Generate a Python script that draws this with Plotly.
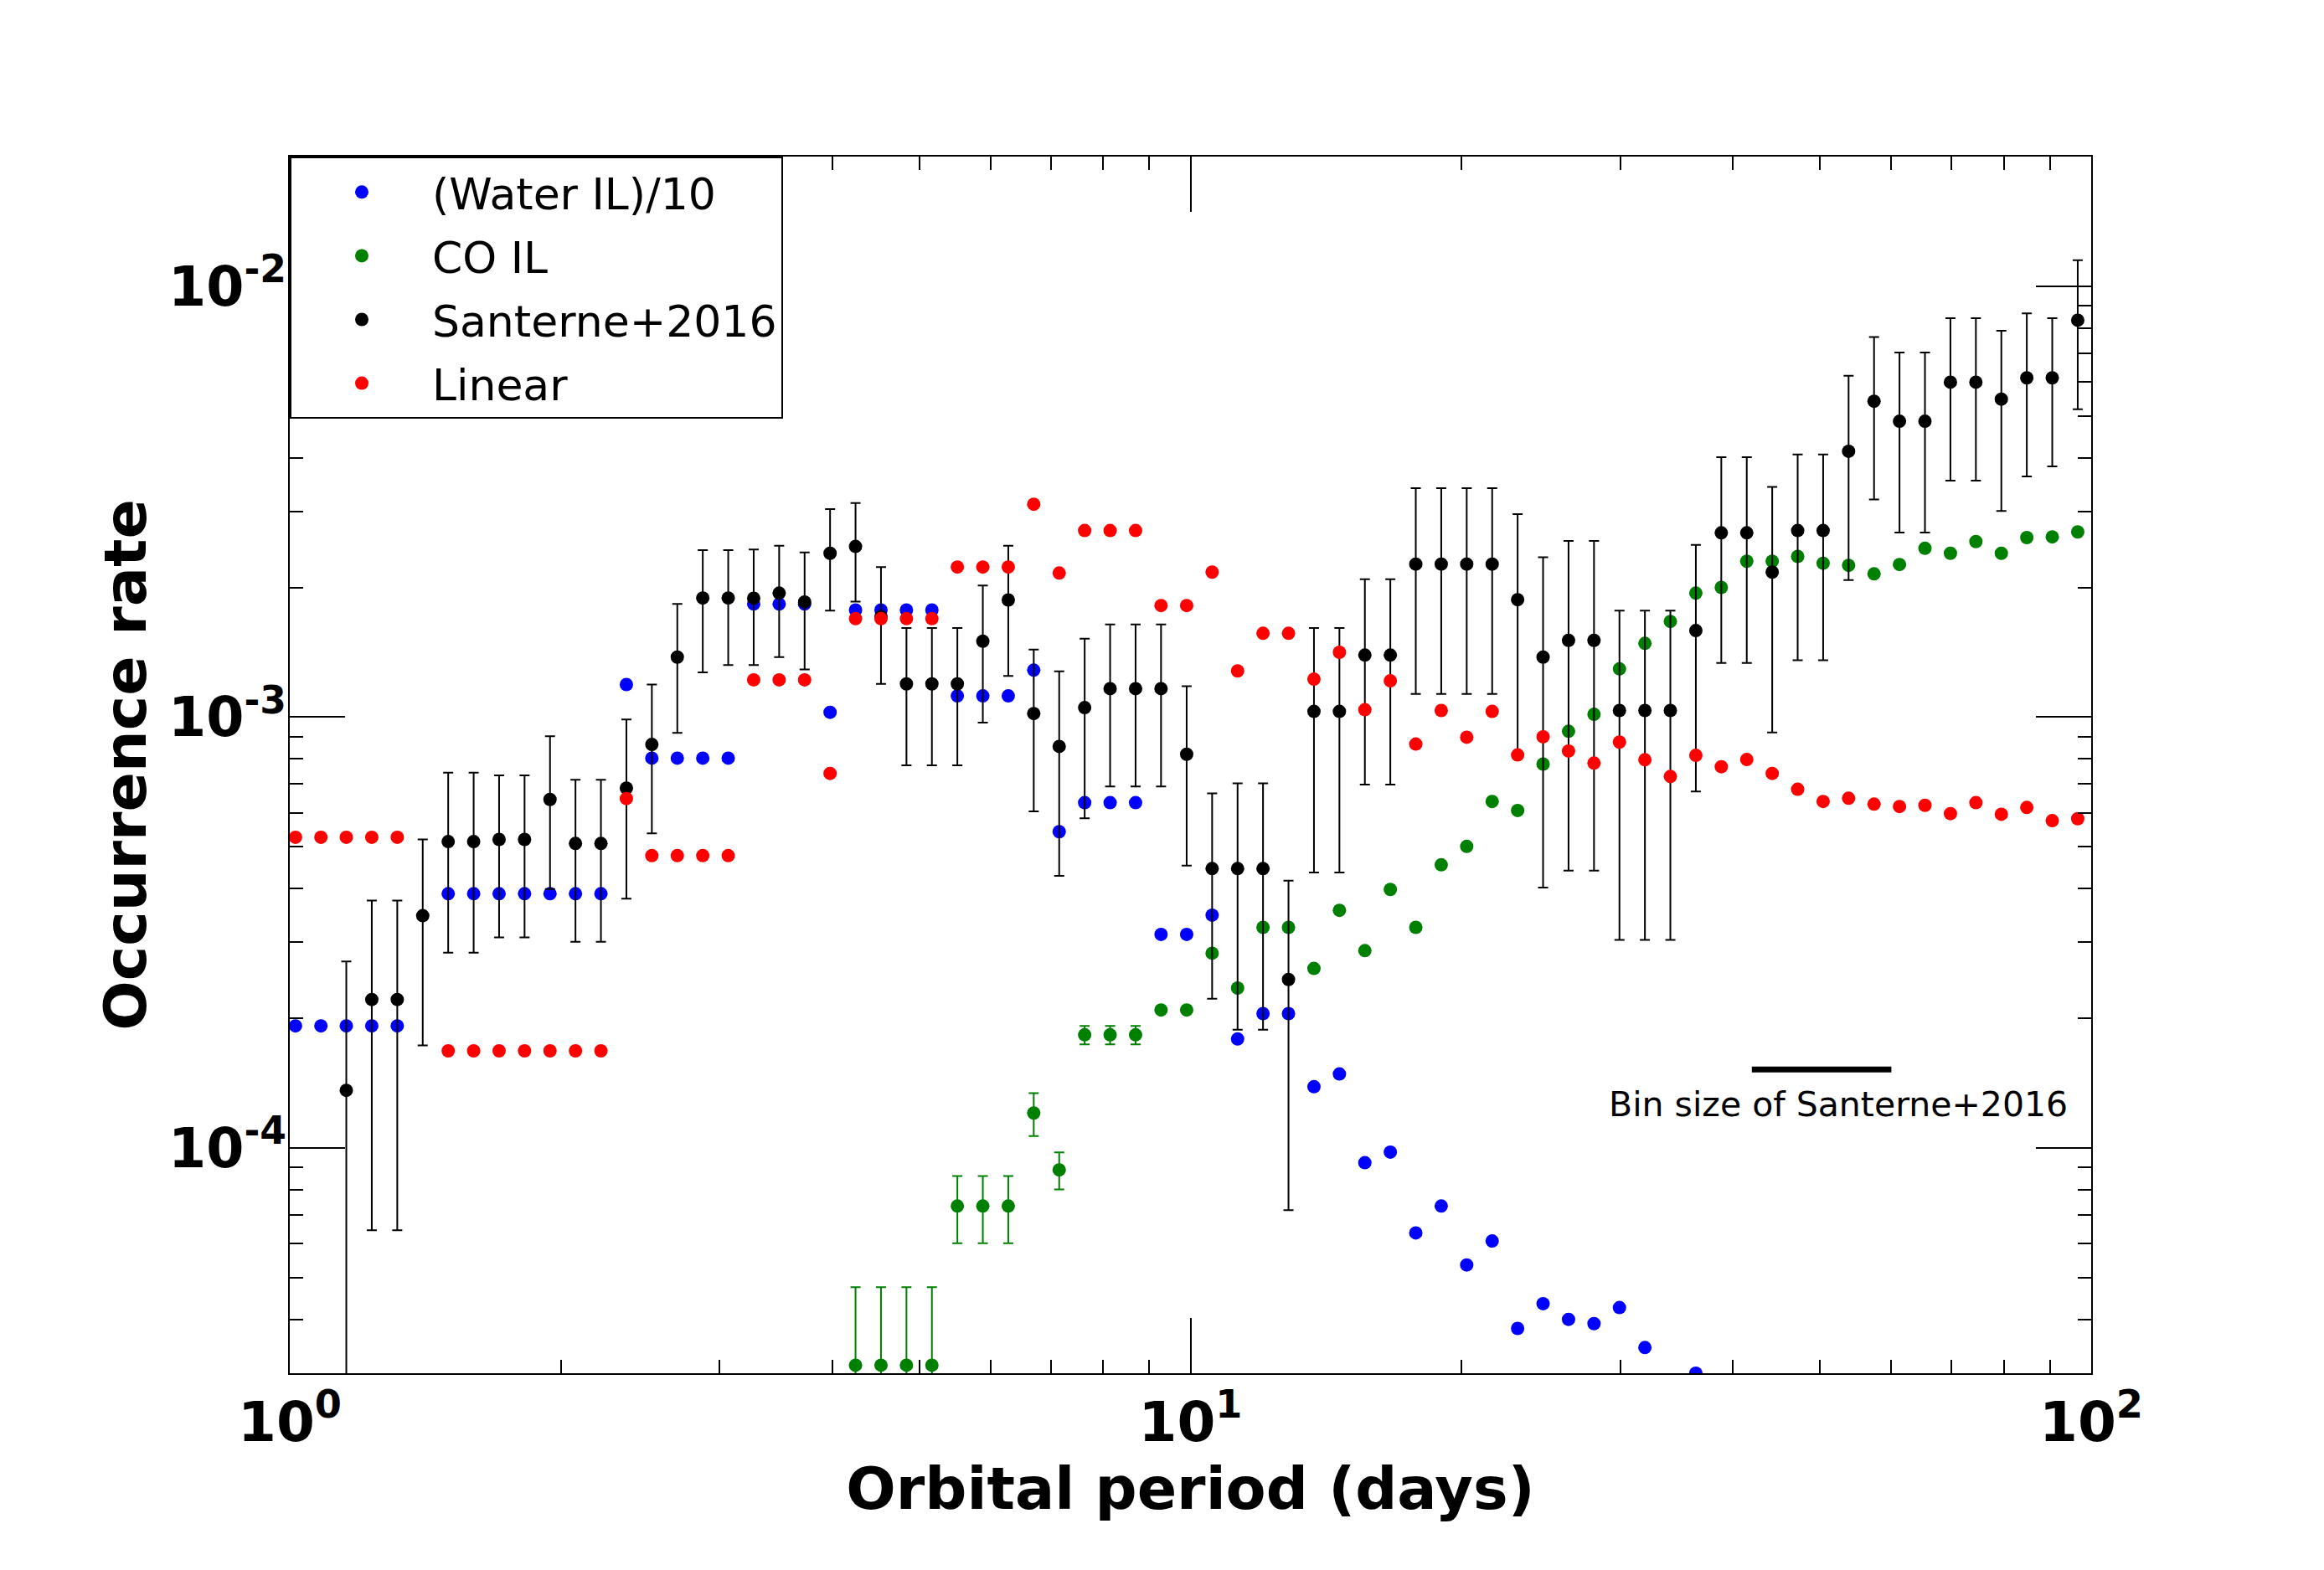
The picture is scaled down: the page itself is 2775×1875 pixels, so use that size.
import plotly.graph_objects as go

# ---------------- data ----------------
period_days = [
    1.0147, 1.0829, 1.1555, 1.2333, 1.3163, 1.4048, 1.4993, 1.6001, 1.7077, 1.8225,
    1.9451, 2.0759, 2.2155, 2.3645, 2.5235, 2.6932, 2.8743, 3.0676, 3.2739, 3.4941,
    3.7291, 3.9799, 4.2475, 4.5331, 4.8380, 5.1633, 5.5105, 5.8811, 6.2766, 6.6987,
    7.1492, 7.6300, 8.1431, 8.6907, 9.2751, 9.9031, 10.569, 11.280, 12.038, 12.848,
    13.712, 14.634, 15.618, 16.668, 17.789, 18.985, 20.262, 21.625, 23.079, 24.631,
    26.287, 28.055, 29.942, 31.955, 34.104, 36.398, 38.845, 41.458, 44.246, 47.221,
    50.397, 53.786, 57.403, 61.263, 65.383, 69.780, 74.472, 79.481, 84.826, 90.530,
    96.62,
]

water_il_div10 = (
    [1.92e-4] * 5 + [None] + [3.89e-4] * 7 + [1.19e-3] + [8.03e-4] * 4
    + [1.83e-3] * 3 + [1.026e-3] + [1.773e-3] * 4 + [1.12e-3] * 3 + [1.285e-3]
    + [5.42e-4] + [6.33e-4] * 3 + [3.13e-4] * 2 + [3.47e-4] + [1.79e-4]
    + [2.05e-4] * 2
    + [1.387e-4, 1.485e-4, 9.24e-5, 9.78e-5, 6.35e-5, 7.33e-5, 5.35e-5, 6.08e-5,
       3.81e-5, 4.35e-5, 4.0e-5, 3.91e-5, 4.26e-5, 3.44e-5]
    + [None, 3.0e-5] + [None] * 15
)

co_il = (
    [None] * 22 + [3.13e-5] * 4 + [7.33e-5] * 3 + [1.205e-4] + [8.89e-5]
    + [1.83e-4] * 3 + [2.09e-4] * 2 + [2.83e-4] + [2.35e-4] + [3.25e-4] * 2
    + [2.61e-4, 3.56e-4, 2.87e-4, 3.98e-4, 3.25e-4, 4.54e-4, 5.01e-4, 6.37e-4,
       6.07e-4, 7.78e-4, 9.27e-4, 1.015e-3, 1.294e-3, 1.483e-3, 1.667e-3, 1.94e-3,
       2.0e-3, 2.30e-3, 2.30e-3, 2.36e-3, 2.275e-3, 2.25e-3, 2.15e-3, 2.26e-3,
       2.465e-3, 2.40e-3, 2.555e-3, 2.40e-3, 2.61e-3, 2.62e-3, 2.69e-3]
)
co_il_upper = (
    [None] * 22 + [4.75e-5] * 4 + [8.6e-5] * 3 + [1.34e-4] + [9.76e-5]
    + [1.92e-4] * 3 + [None] * 37
)
co_il_lower = (
    [None] * 22 + [1.0e-5] * 4 + [6.01e-5] * 3 + [1.066e-4] + [8.01e-5]
    + [1.74e-4] * 3 + [None] * 37
)

santerne = [
    None, None, 1.36e-4, 2.21e-4, 2.21e-4, 3.46e-4, 5.14e-4, 5.14e-4, 5.2e-4, 5.2e-4,
    6.44e-4, 5.09e-4, 5.09e-4, 6.84e-4, 8.64e-4, 1.378e-3, 1.89e-3, 1.89e-3, 1.888e-3, 1.94e-3,
    1.85e-3, 2.40e-3, 2.49e-3, 1.71e-3, 1.194e-3, 1.194e-3, 1.194e-3, 1.50e-3, 1.87e-3, 1.019e-3,
    8.55e-4, 1.052e-3, 1.164e-3, 1.164e-3, 1.164e-3, 8.2e-4, 4.45e-4, 4.45e-4, 4.45e-4, 2.46e-4,
    1.031e-3, 1.031e-3, 1.393e-3, 1.393e-3, 2.265e-3, 2.265e-3, 2.265e-3, 2.265e-3, 1.873e-3, 1.378e-3,
    1.507e-3, 1.507e-3, 1.036e-3, 1.036e-3, 1.036e-3, 1.588e-3, 2.677e-3, 2.677e-3, 2.17e-3, 2.71e-3,
    2.71e-3, 4.14e-3, 5.41e-3, 4.86e-3, 4.86e-3, 5.99e-3, 5.99e-3, 5.47e-3, 6.13e-3, 6.13e-3,
    8.34e-3,
]
santerne_upper = [
    None, None, 2.71e-4, 3.75e-4, 3.75e-4, 5.2e-4, 7.43e-4, 7.43e-4, 7.32e-4, 7.32e-4,
    9.03e-4, 7.15e-4, 7.15e-4, 9.87e-4, 1.19e-3, 1.83e-3, 2.44e-3, 2.44e-3, 2.45e-3, 2.50e-3,
    2.41e-3, 3.04e-3, 3.14e-3, 2.23e-3, 1.61e-3, 1.61e-3, 1.61e-3, 2.02e-3, 2.50e-3, 1.435e-3,
    1.277e-3, 1.52e-3, 1.64e-3, 1.64e-3, 1.64e-3, 1.18e-3, 6.65e-4, 7.02e-4, 7.02e-4, 4.17e-4,
    1.61e-3, 1.61e-3, 2.09e-3, 2.09e-3, 3.40e-3, 3.40e-3, 3.40e-3, 3.40e-3, 2.96e-3, 2.35e-3,
    2.565e-3, 2.565e-3, 1.766e-3, 1.766e-3, 1.766e-3, 2.51e-3, 4.01e-3, 4.01e-3, 3.42e-3, 4.07e-3,
    4.07e-3, 6.2e-3, 7.62e-3, 7.02e-3, 7.02e-3, 8.43e-3, 8.43e-3, 7.88e-3, 8.65e-3, 8.43e-3,
    1.15e-2,
]
santerne_lower = [
    None, None, 1.0e-5, 6.44e-5, 6.44e-5, 1.73e-4, 2.84e-4, 2.84e-4, 3.08e-4, 3.08e-4,
    3.99e-4, 3.01e-4, 3.01e-4, 3.79e-4, 5.37e-4, 9.19e-4, 1.27e-3, 1.32e-3, 1.32e-3, 1.378e-3,
    1.29e-3, 1.766e-3, 1.853e-3, 1.194e-3, 7.73e-4, 7.73e-4, 7.73e-4, 9.71e-4, 1.246e-3, 6.04e-4,
    4.28e-4, 5.82e-4, 6.90e-4, 6.90e-4, 6.90e-4, 4.52e-4, 2.22e-4, 1.88e-4, 1.88e-4, 7.17e-5,
    4.36e-4, 4.36e-4, 6.97e-4, 6.97e-4, 1.132e-3, 1.132e-3, 1.132e-3, 1.132e-3, 8.2e-4, 4.02e-4,
    4.40e-4, 4.40e-4, 3.04e-4, 3.04e-4, 3.04e-4, 6.72e-4, 1.335e-3, 1.335e-3, 9.21e-4, 1.355e-3,
    1.355e-3, 2.08e-3, 3.20e-3, 2.68e-3, 2.68e-3, 3.54e-3, 3.54e-3, 3.01e-3, 3.62e-3, 3.82e-3,
    5.18e-3,
]

linear = (
    [5.26e-4] * 5 + [None] + [1.68e-4] * 7 + [6.47e-4] + [4.77e-4] * 4
    + [1.22e-3] * 3 + [7.40e-4] + [1.692e-3] * 4 + [2.23e-3] * 3 + [3.12e-3]
    + [2.16e-3] + [2.71e-3] * 3 + [1.815e-3] * 2 + [2.17e-3] + [1.28e-3]
    + [1.565e-3] * 2
    + [1.225e-3, 1.414e-3, 1.04e-3, 1.214e-3, 8.66e-4, 1.036e-3, 8.98e-4, 1.031e-3,
       8.17e-4, 9.0e-4, 8.34e-4, 7.82e-4, 8.75e-4, 7.96e-4, 7.28e-4, 8.15e-4,
       7.67e-4, 7.97e-4, 7.40e-4, 6.8e-4, 6.37e-4, 6.48e-4, 6.28e-4, 6.20e-4,
       6.24e-4, 5.97e-4, 6.33e-4, 5.95e-4, 6.17e-4, 5.75e-4, 5.81e-4]
)

series_names = ["(Water IL)/10", "CO IL", "Santerne+2016", "Linear"]

bin_bar_period = [42.0, 60.0]
bin_bar_rate = [1.52e-4, 1.52e-4]
bin_label = "Bin size of Santerne+2016"
bin_label_period = [52.4]
bin_label_rate = [1.24e-4]

x_tickvals = [1, 10, 100]
x_ticktext = ["10<sup>0</sup>", "10<sup>1</sup>", "10<sup>2</sup>"]
y_tickvals = [1e-4, 1e-3, 1e-2]
y_ticktext = ["10<sup>-4</sup>", "10<sup>-3</sup>", "10<sup>-2</sup>"]


# ---------------- helpers ----------------
def err_plus(y, hi):
    return [(h - v) if (v is not None and h is not None) else 0 for v, h in zip(y, hi)]


def err_minus(y, lo):
    return [(v - l) if (v is not None and l is not None) else 0 for v, l in zip(y, lo)]


FONT = "DejaVu Sans"
MS = 16

fig = go.Figure()

fig.add_trace(go.Scatter(
    x=period_days, y=water_il_div10, mode="markers", name=series_names[0],
    marker=dict(color="#0000ff", size=MS, line=dict(width=0)),
    legendgroup="a",
))
fig.add_trace(go.Scatter(
    x=period_days, y=co_il, mode="markers", name=series_names[1],
    marker=dict(color="#008000", size=MS, line=dict(width=0)),
    error_y=dict(type="data", symmetric=False,
                 array=err_plus(co_il, co_il_upper),
                 arrayminus=err_minus(co_il, co_il_lower),
                 color="#008000", thickness=2, width=6),
    legendgroup="b",
))
fig.add_trace(go.Scatter(
    x=period_days, y=santerne, mode="markers", name=series_names[2],
    marker=dict(color="#000000", size=MS, line=dict(width=0)),
    error_y=dict(type="data", symmetric=False,
                 array=err_plus(santerne, santerne_upper),
                 arrayminus=err_minus(santerne, santerne_lower),
                 color="#000000", thickness=2, width=6),
    legendgroup="c",
))
fig.add_trace(go.Scatter(
    x=period_days, y=linear, mode="markers", name=series_names[3],
    marker=dict(color="#ff0000", size=MS, line=dict(width=0)),
    legendgroup="d",
))

# bin-size bar and its label
fig.add_trace(go.Scatter(
    x=bin_bar_period, y=bin_bar_rate, mode="lines",
    line=dict(color="black", width=7), showlegend=False, hoverinfo="skip",
))
fig.add_trace(go.Scatter(
    x=bin_label_period, y=bin_label_rate, mode="text", text=[bin_label],
    textposition="middle center",
    textfont=dict(family=FONT, size=41, color="black"),
    showlegend=False, hoverinfo="skip",
))

minor_x = [2, 3, 4, 5, 6, 7, 8, 9, 20, 30, 40, 50, 60, 70, 80, 90]
minor_y = [3e-5, 4e-5, 5e-5, 6e-5, 7e-5, 8e-5, 9e-5,
           2e-4, 3e-4, 4e-4, 5e-4, 6e-4, 7e-4, 8e-4, 9e-4,
           2e-3, 3e-3, 4e-3, 5e-3, 6e-3, 7e-3, 8e-3, 9e-3]

fig.update_layout(
    width=2775, height=1875,
    margin=dict(l=346, r=278, t=187, b=235),
    paper_bgcolor="white", plot_bgcolor="white",
    font=dict(family=FONT, color="black"),
    showlegend=True,
    legend=dict(
        x=0, y=1, xanchor="left", yanchor="top",
        bordercolor="black", borderwidth=2, bgcolor="white",
        font=dict(family=FONT, size=52, color="black"),
        itemwidth=158, tracegroupgap=5.5,
    ),
    xaxis=dict(
        type="log", range=[0, 2],
        showgrid=False, zeroline=False,
        showline=True, linecolor="black", linewidth=2, mirror="ticks",
        ticks="inside", ticklen=66, tickwidth=1.5, tickcolor="black",
        tickmode="array", tickvals=x_tickvals, ticktext=x_ticktext,
        tickfont=dict(family=FONT, size=66, color="black", weight="bold"),
        minor=dict(tickmode="array", tickvals=minor_x, ticks="inside",
                   ticklen=16, tickwidth=1.5, tickcolor="black", showgrid=False),
        title=dict(text="Orbital period (days)",
                   font=dict(family=FONT, size=70, color="black", weight="bold"),
                   standoff=16),
    ),
    yaxis=dict(
        type="log", range=[-4.523, -1.699],
        showgrid=False, zeroline=False,
        showline=True, linecolor="black", linewidth=2, mirror="ticks",
        ticks="inside", ticklen=66, tickwidth=1.5, tickcolor="black",
        tickmode="array", tickvals=y_tickvals, ticktext=y_ticktext,
        tickfont=dict(family=FONT, size=65, color="black", weight="bold"),
        ticklabelstandoff=-11,
        minor=dict(tickmode="array", tickvals=minor_y, ticks="inside",
                   ticklen=16, tickwidth=1.5, tickcolor="black", showgrid=False),
        title=dict(text="Occurrence rate",
                   font=dict(family=FONT, size=70, color="black", weight="bold"),
                   standoff=3),
    ),
)

fig.write_html("out.html")
